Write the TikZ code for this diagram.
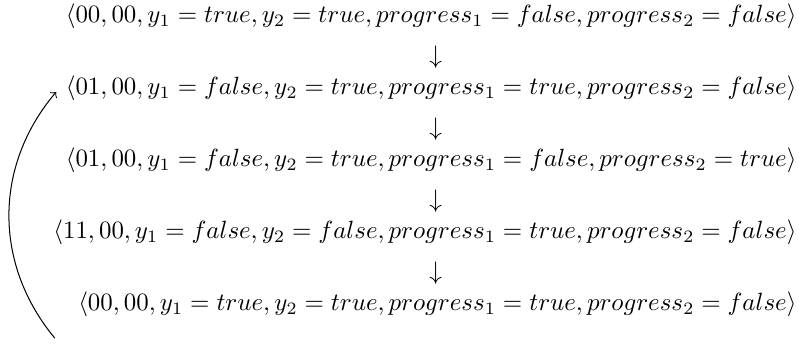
\documentclass[tikz,border=0pt]{standalone}
\usepackage{graphicx}
\usetikzlibrary{positioning}
\newcommand{\statetext}[1]{\scalebox{0.984}{$#1$}}
\tikzset{
  state/.style={anchor=base east, inner sep=0pt},
  trans/.style={inner sep=0pt},
  back/.style={->, line width=0.4pt},
}
\begin{document}
\begin{tikzpicture}
  \useasboundingbox (0,0) rectangle (11.167,4.889);
  \node[state] (s0) at (11.07,4.57) {\statetext{\langle 00, 00, y_1 = true, y_2 = true, progress_1 = false, progress_2 = false\rangle}};
  \node[state] (s1) at (11.07,3.57) {\statetext{\langle 01, 00, y_1 = false, y_2 = true, progress_1 = true, progress_2 = false\rangle}};
  \node[state] (s2) at (11.07,2.57) {\statetext{\langle 01, 00, y_1 = false, y_2 = true, progress_1 = false, progress_2 = true\rangle}};
  \node[state] (s3) at (11.07,1.57) {\statetext{\langle 11, 00, y_1 = false, y_2 = false, progress_1 = true, progress_2 = false\rangle}};
  \node[state] (s4) at (11.07,0.57) {\statetext{\langle 00, 00, y_1 = true, y_2 = true, progress_1 = true, progress_2 = false\rangle}};
  \node[trans] (t0) at (6.05,4.1) {$\downarrow$};
  \node[trans] (t1) at (6.05,3.1) {$\downarrow$};
  \node[trans] (t2) at (6.05,2.1) {$\downarrow$};
  \node[trans] (t3) at (6.05,1.1) {$\downarrow$};
  \coordinate (loopout) at (0.76,0.194);
  \coordinate (loopin) at (0.78,3.611);
  \draw[back] (loopout) to[bend left=40] (loopin);
\end{tikzpicture}
\end{document}
